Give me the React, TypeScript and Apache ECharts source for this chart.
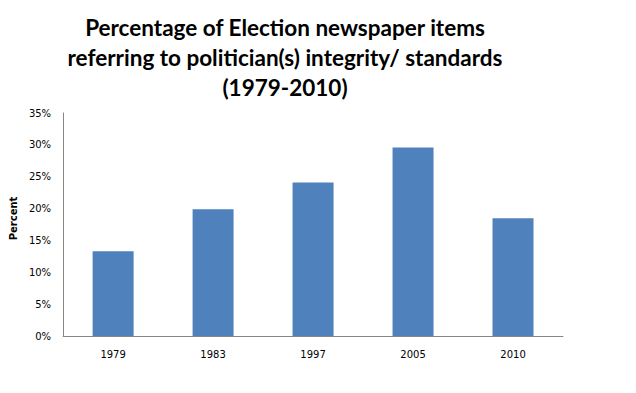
import React, { useEffect, useRef } from "react";
import * as echarts from "echarts";

const categories = ["1979", "1983", "1997", "2005", "2010"];
const values = [13.3, 19.9, 24.1, 29.6, 18.5];
const yTicks = [0, 5, 10, 15, 20, 25, 30, 35];
const titleLines = [
  "Percentage of Election newspaper items",
  "referring to politician(s) integrity/ standards",
  "(1979-2010)",
];

export default function App() {
  const ref = useRef<HTMLDivElement>(null);
  useEffect(() => {
    if (!ref.current) return;
    const chart = echarts.init(ref.current, null, { renderer: "svg" });
    chart.setOption({
      animation: false,
      backgroundColor: "#ffffff",
      title: {
        text: titleLines.join("\n"),
        left: 280,
        top: 7,
        textAlign: "center",
        textStyle: {
          fontFamily: "Lato, sans-serif",
          fontWeight: "bold",
          fontSize: 22.5,
          lineHeight: 30,
          color: "#000000",
        },
      },
      grid: { left: 62, right: 73, top: 113, bottom: 57 },
      xAxis: {
        type: "category",
        data: categories,
        axisLine: { lineStyle: { color: "#868686", width: 1 } },
        axisTick: { show: false },
        axisLabel: {
          margin: 13,
          fontFamily: "'DejaVu Sans', Verdana, sans-serif",
          fontSize: 10,
          color: "#000000",
        },
      },
      yAxis: {
        type: "value",
        min: yTicks[0],
        max: yTicks[yTicks.length - 1],
        interval: 5,
        name: "Percent",
        nameLocation: "middle",
        nameGap: 41,
        nameRotate: 90,
        nameTextStyle: {
          fontFamily: "'DejaVu Sans', Verdana, sans-serif",
          fontWeight: "bold",
          fontSize: 10,
          color: "#000000",
          padding: [0, 0, 0, 12],
        },
        axisLine: { show: true, lineStyle: { color: "#868686", width: 1 } },
        axisTick: { show: false },
        splitLine: { show: false },
        axisLabel: {
          margin: 12,
          formatter: (v: number) => `${v}%`,
          fontFamily: "'DejaVu Sans', Verdana, sans-serif",
          fontSize: 10,
          color: "#000000",
        },
      },
      series: [
        {
          type: "bar",
          data: values,
          barWidth: "41%",
          itemStyle: { color: "#4F81BD" },
        },
      ],
    });
    return () => chart.dispose();
  }, []);
  return (
    <div
      ref={ref}
      style={{ position: "fixed", left: 0, top: 0, width: 636, height: 393 }}
    />
  );
}
